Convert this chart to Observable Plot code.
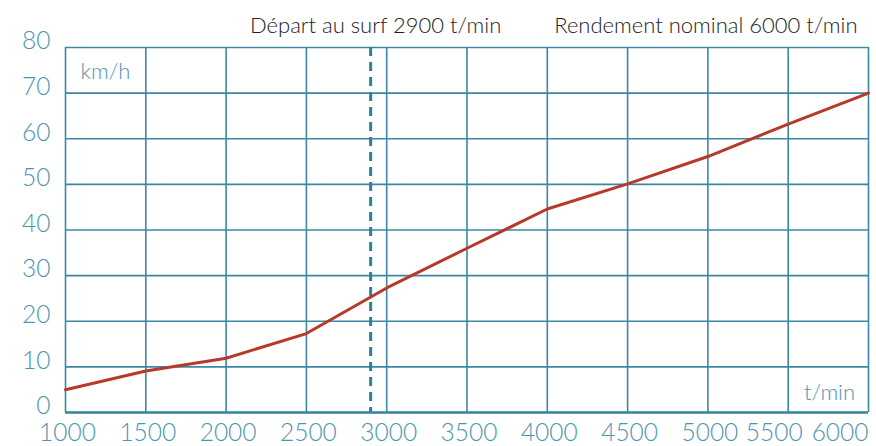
<!DOCTYPE html>
<html><head><meta charset="utf-8">
<script src="https://cdn.jsdelivr.net/npm/d3@7"></script>
<script src="https://cdn.jsdelivr.net/npm/@observablehq/plot@0.6"></script>
<style>
html,body{margin:0;padding:0;background:#fff;}
svg{font-family:Lato,"Open Sans",sans-serif;}
</style></head><body>
<div id="chart"></div>
<script>
const rpm = [1000,1500,2000,2500,3000,3500,4000,4500,5000,5500,6000];
const speed = [5,9.1,11.9,17.3,27.3,36,44.6,50.1,56.1,63.2,70];
const xTicks = [1000,1500,2000,2500,3000,3500,4000,4500,5000,5500,6000];
const yTicks = [0,10,20,30,40,50,60,70,80];
const surfRpm = 2900;
const annotations = [
  {x:2900, text:"Départ au surf 2900 t/min"},
  {x:6000, text:"Rendement nominal 6000 t/min"}
];
const yUnit = "km/h", xUnit = "t/min";

const data = rpm.map((r,i)=>({rpm:r, speed:speed[i]}));
const grid = "#3a88a3", lab = "#4b95b0";
const tf = {fill:lab, fontSize:24.5, fontWeight:300};

const chart = Plot.plot({
  width:876, height:446,
  marginLeft:65, marginRight:8, marginTop:47, marginBottom:34,
  x:{domain:[1000,6000], axis:null},
  y:{domain:[0,80], axis:null},
  marks:[
    Plot.ruleX(xTicks, {stroke:grid, strokeWidth:1.6}),
    Plot.ruleY(yTicks, {stroke:grid, strokeWidth:1.6}),
    Plot.ruleY([0], {stroke:grid, strokeWidth:2.4}),
    Plot.ruleX([surfRpm], {stroke:"#2f7f9c", strokeWidth:3, strokeDasharray:"9,6"}),
    Plot.line(data, {x:"rpm", y:"speed", stroke:"#b53a2b", strokeWidth:3}),
    Plot.text(yTicks, {x:1000, y:d=>d, text:d=>String(d), textAnchor:"end", dx:-15, dy:-6, ...tf}),
    Plot.text(xTicks.slice(0,-2), {x:d=>d, y:0, text:d=>String(d), dy:20.5, dx:2, ...tf}),
    Plot.text([xTicks[9]], {x:d=>d, y:0, text:d=>String(d), dy:20.5, dx:-14, ...tf}),
    Plot.text([xTicks[10]], {x:d=>d, y:0, text:d=>String(d), dy:20.5, textAnchor:"end", ...tf}),
    Plot.text([yUnit], {x:1000, y:80, text:d=>d, dx:40, dy:24, fill:lab, fontSize:22, fontWeight:300}),
    Plot.text([xUnit], {x:6000, y:0, text:d=>d, dx:-39, dy:-20, fill:lab, fontSize:22, fontWeight:300}),
    Plot.text(annotations.slice(0,1), {x:"x", y:80, text:"text", dy:-22, dx:5, fill:"#222", fontSize:22, fontWeight:300}),
    Plot.text(annotations.slice(1), {x:"x", y:80, text:"text", dy:-22, dx:-11, textAnchor:"end", fill:"#222", fontSize:22, fontWeight:300})
  ]
});
document.getElementById("chart").appendChild(chart);
</script></body></html>
